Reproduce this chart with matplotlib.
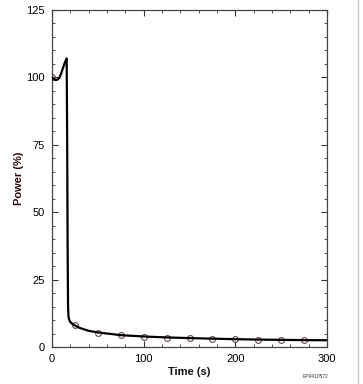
import matplotlib
matplotlib.use("Agg")
import matplotlib.pyplot as plt
from matplotlib.ticker import MultipleLocator

# calculated power trace
line_time = [0, 2, 4, 6, 8, 10, 12, 14, 16, 16.5, 17, 17.5, 18, 18.5, 19, 20, 22, 25, 30, 40, 50, 60, 75,
             100, 125, 150, 175, 200, 225, 250, 275, 300]
line_power = [100, 99.3, 99.0, 99.2, 99.8, 101.5, 103.5, 105.5, 107, 80, 40, 15, 11.2, 10.5, 9.9, 9.3, 8.6,
              8.0, 7.1, 6.0, 5.4, 5.0, 4.4, 3.9, 3.55, 3.3, 3.1, 2.9, 2.75, 2.65, 2.55, 2.5]
# reference points
pt_time = [0, 25, 50, 75, 100, 125, 150, 175, 200, 225, 250, 275]
pt_power = [100, 8.2, 5.3, 4.4, 3.8, 3.5, 3.25, 3.0, 2.85, 2.7, 2.6, 2.6]

plt.rcParams['font.family'] = ['Liberation Sans', 'DejaVu Sans']
fig = plt.figure(figsize=(3.63, 3.84), dpi=100)
ax = fig.add_axes([52/363, 37/384, 275/363, 337/384])

ax.plot(pt_time, pt_power, linestyle='none', marker='o', ms=4.2, mfc='none',
        mec='#6a4850', mew=0.8, zorder=2)
ax.plot(line_time, line_power, color='black', lw=1.6, zorder=3)

ax.set_xlim(0, 300)
ax.set_ylim(0, 125)
ax.xaxis.set_major_locator(MultipleLocator(100))
ax.xaxis.set_minor_locator(MultipleLocator(20))
ax.yaxis.set_major_locator(MultipleLocator(25))
ax.yaxis.set_minor_locator(MultipleLocator(5))
ax.tick_params(which='both', direction='in', top=True, right=True, colors='#333333',
               labelcolor='black', labelsize=8)
ax.tick_params(which='major', length=4, width=0.8, pad=5)
ax.tick_params(which='minor', length=2.5, width=0.6)
for s in ax.spines.values():
    s.set_color('#444444')
    s.set_linewidth(0.9)

ax.set_xlabel('Time (s)', fontsize=8, fontweight='bold', labelpad=2, color='#111111')
ax.set_ylabel('Power (%)', fontsize=8, fontweight='bold', labelpad=2, color='#2a0c0c')
fig.text(328/363, 1 - 377/384, 'EP9410572', fontsize=3.5, ha='right', va='center', color='#333333')
fig.add_artist(plt.Line2D([358/363, 358/363], [0, 1], color='#cccccc', lw=1, transform=fig.transFigure))

fig.savefig('out.png', dpi=100)
